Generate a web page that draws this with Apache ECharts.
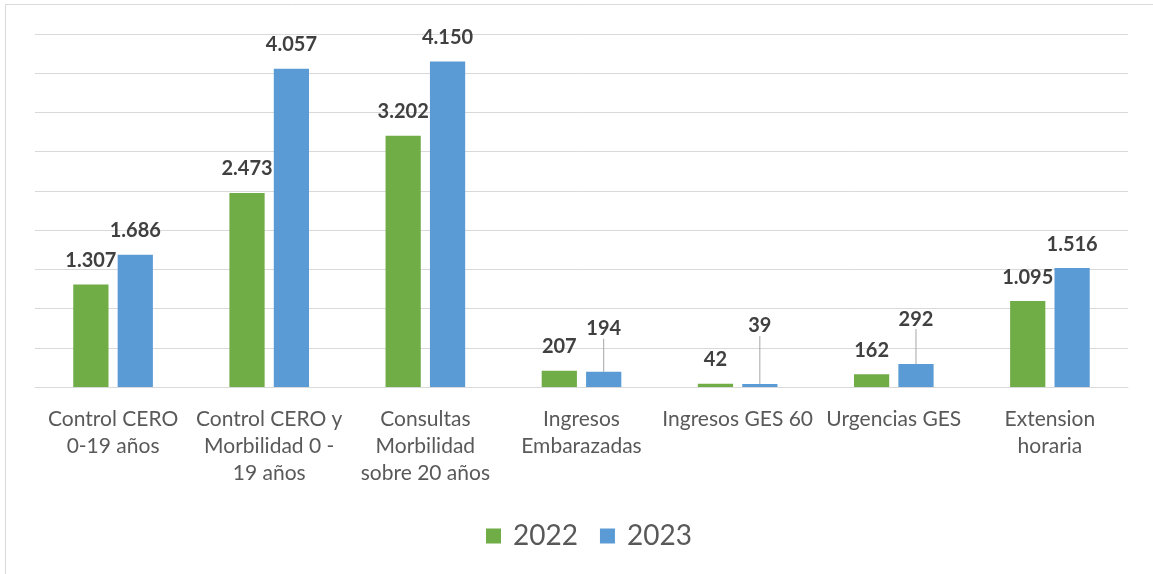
<!DOCTYPE html>
<html>
<head>
<meta charset="utf-8">
<script src="https://cdn.jsdelivr.net/npm/echarts@6/dist/echarts.min.js"></script>
<style>html,body{margin:0;padding:0;background:#fff;}#c{width:1153px;height:574px;}</style>
</head>
<body>
<div id="c"></div>
<script>
const categories = [
  'Control CERO\n0-19 años',
  'Control CERO y\nMorbilidad 0 -\n19 años',
  'Consultas\nMorbilidad\nsobre 20 años',
  'Ingresos\nEmbarazadas',
  'Ingresos GES 60',
  'Urgencias GES',
  'Extension\nhoraria'
];
const seriesNames = ['2022', '2023'];
const values2022 = [1307, 2473, 3202, 207, 42, 162, 1095];
const values2023 = [1686, 4057, 4150, 194, 39, 292, 1516];

const FONT = 'Lato, "Open Sans", sans-serif';
const fmt = v => v.toLocaleString('de-DE');
// label shifts for small 2023 bars (leader lines in the original)
const shift2023 = {3: -19, 4: -34, 5: -21};

const data2023 = values2023.map((v, i) => shift2023[i]
  ? {value: v, labelLine: {show: true}}
  : {value: v});

const chart = echarts.init(document.getElementById('c'), null, {renderer: 'canvas'});
chart.setOption({
  animation: false,
  backgroundColor: '#fff',
  textStyle: {fontFamily: FONT},
  graphic: [{
    type: 'rect', silent: true,
    shape: {x: 5.5, y: 4.5, width: 1200, height: 700},
    style: {fill: 'none', stroke: '#d9d9d9', lineWidth: 1}
  }],
  grid: {left: 35, right: 25, top: 34, bottom: 187},
  legend: {
    bottom: 19, left: 481,
    itemWidth: 15, itemHeight: 15, itemGap: 22,
    icon: 'rect',
    textStyle: {fontSize: 28, color: '#595959', fontFamily: FONT, padding: [0, 0, 0, 7]},
    data: seriesNames
  },
  xAxis: {
    type: 'category', data: categories,
    axisLine: {lineStyle: {color: '#d9d9d9'}},
    axisTick: {show: false},
    axisLabel: {interval: 0, fontSize: 21, lineHeight: 27, color: '#595959', margin: 19, fontFamily: FONT}
  },
  yAxis: {
    type: 'value', min: 0, max: 4500, interval: 500,
    axisLabel: {show: false}, axisLine: {show: false}, axisTick: {show: false},
    splitLine: {lineStyle: {color: '#d9d9d9'}}
  },
  series: [
    {
      name: seriesNames[0], type: 'bar', data: values2022,
      barGap: '26%', barCategoryGap: '49%',
      itemStyle: {color: '#70ad47'},
      label: {show: true, position: 'top', distance: 14, fontSize: 20, fontWeight: 'bold', color: '#404040', fontFamily: FONT,
        formatter: p => fmt(p.value)}
    },
    {
      name: seriesNames[1], type: 'bar', data: data2023,
      itemStyle: {color: '#5b9bd5'},
      label: {show: true, position: 'top', distance: 14, fontSize: 20, fontWeight: 'bold', color: '#404040', fontFamily: FONT,
        formatter: p => fmt(p.value)},
      labelLine: {show: false, lineStyle: {color: '#a6a6a6', width: 1}},
      labelLayout: function (params) {
        const d = shift2023[params.dataIndex];
        if (d) return {dy: d};
        return {};
      }
    }
  ]
});
</script>
</body>
</html>
